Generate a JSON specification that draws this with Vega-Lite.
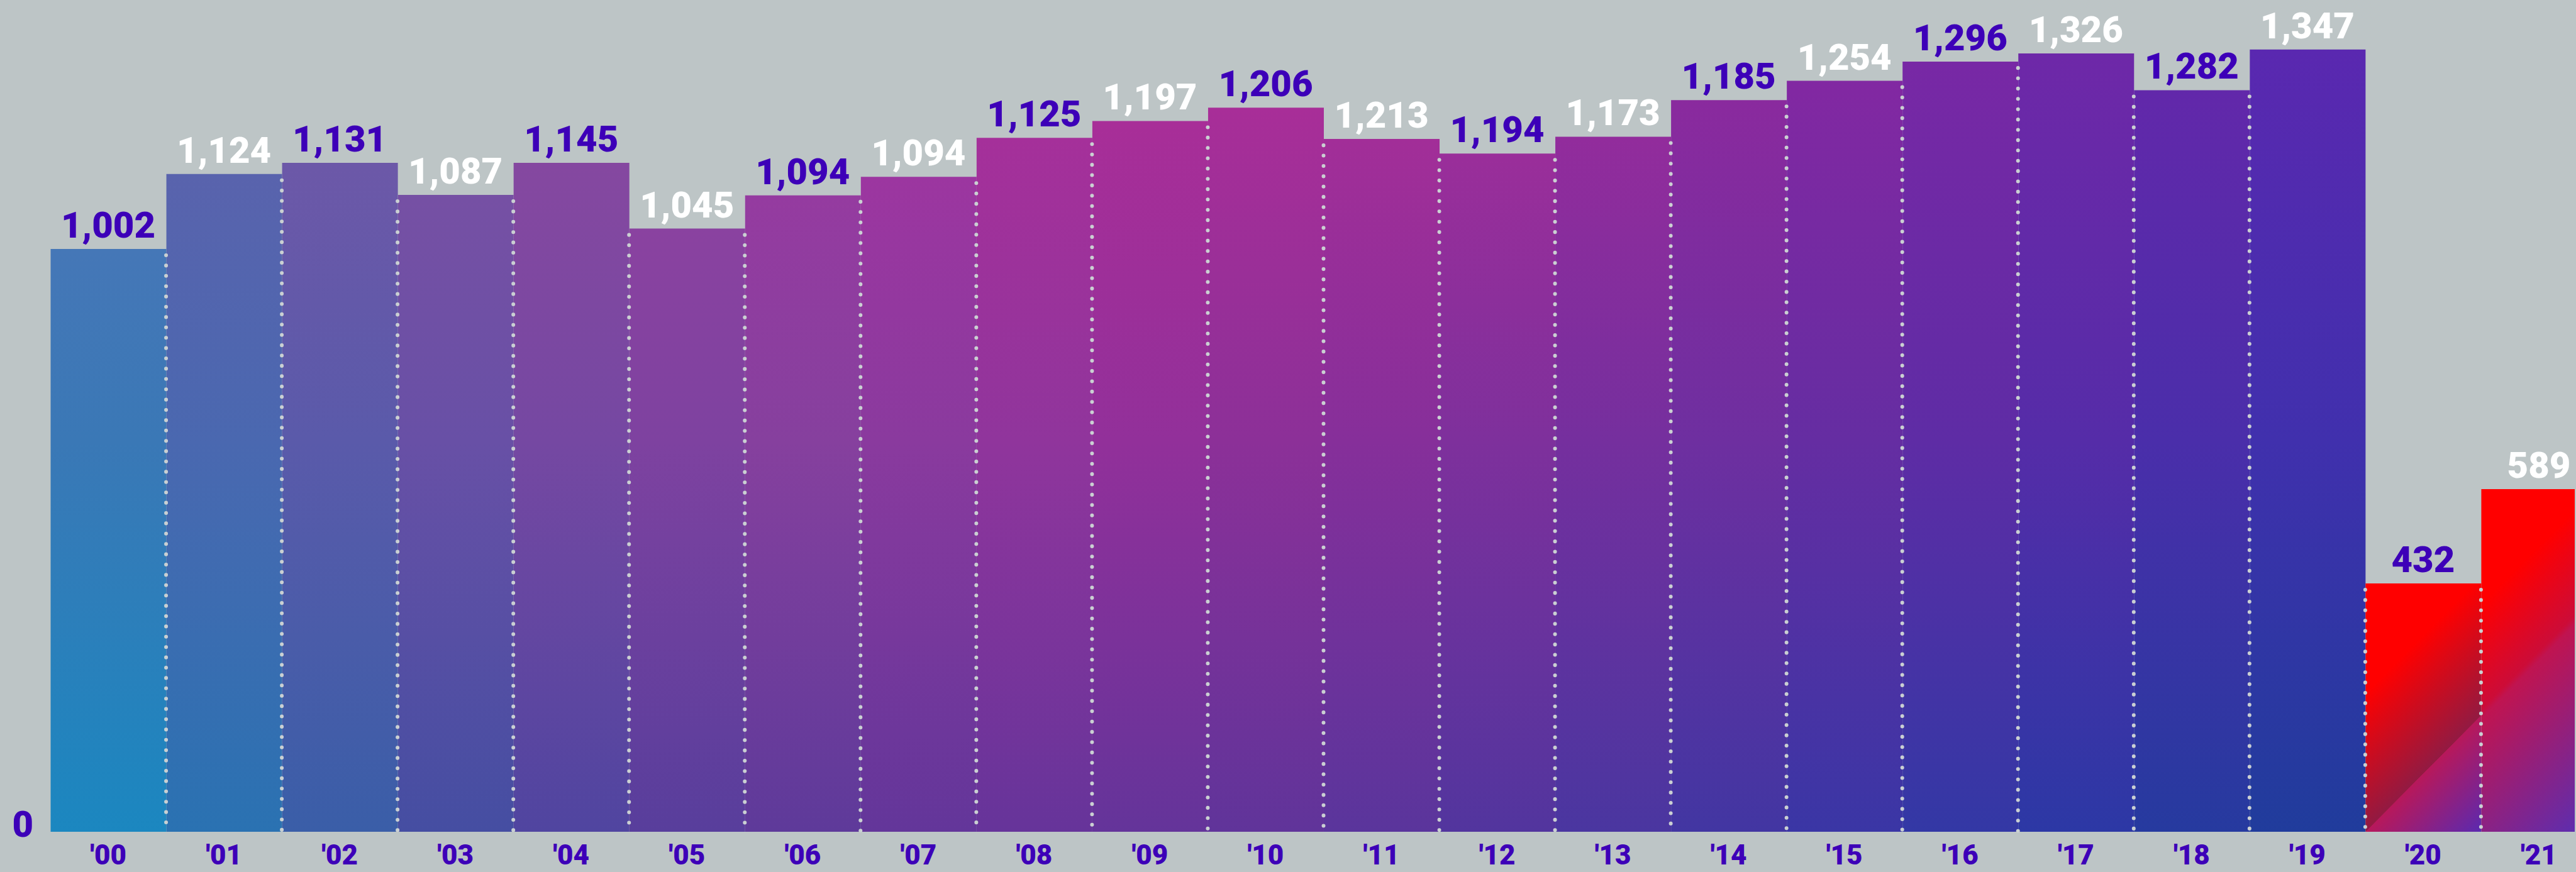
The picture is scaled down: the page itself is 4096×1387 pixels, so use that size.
{
  "$schema": "https://vega.github.io/schema/vega-lite/v6.json",
  "width": 4014,
  "height": 1323,
  "autosize": {"type": "none"},
  "padding": {"left": 80, "top": 0, "right": 2, "bottom": 64},
  "background": "#bdc5c6",
  "config": {"view": {"stroke": null}},
  "datasets": {
    "bars": [
      {"year": 2000, "lab": "'00", "value": 1002, "bar": 1002},
      {"year": 2001, "lab": "'01", "value": 1124, "bar": 1131},
      {"year": 2002, "lab": "'02", "value": 1131, "bar": 1150},
      {"year": 2003, "lab": "'03", "value": 1087, "bar": 1095},
      {"year": 2004, "lab": "'04", "value": 1145, "bar": 1150},
      {"year": 2005, "lab": "'05", "value": 1045, "bar": 1037},
      {"year": 2006, "lab": "'06", "value": 1094, "bar": 1094},
      {"year": 2007, "lab": "'07", "value": 1094, "bar": 1126},
      {"year": 2008, "lab": "'08", "value": 1125, "bar": 1193},
      {"year": 2009, "lab": "'09", "value": 1197, "bar": 1222},
      {"year": 2010, "lab": "'10", "value": 1206, "bar": 1245},
      {"year": 2011, "lab": "'11", "value": 1213, "bar": 1191},
      {"year": 2012, "lab": "'12", "value": 1194, "bar": 1166},
      {"year": 2013, "lab": "'13", "value": 1173, "bar": 1195},
      {"year": 2014, "lab": "'14", "value": 1185, "bar": 1258},
      {"year": 2015, "lab": "'15", "value": 1254, "bar": 1291},
      {"year": 2016, "lab": "'16", "value": 1296, "bar": 1324},
      {"year": 2017, "lab": "'17", "value": 1326, "bar": 1338},
      {"year": 2018, "lab": "'18", "value": 1282, "bar": 1275},
      {"year": 2019, "lab": "'19", "value": 1347, "bar": 1345},
      {"year": 2020, "lab": "'20", "value": 432, "bar": 427},
      {"year": 2021, "lab": "'21", "value": 589, "bar": 589}
    ],
    "edges": [
      {"edge": 2001, "h": 1002}, {"edge": 2002, "h": 1131}, {"edge": 2003, "h": 1095},
      {"edge": 2004, "h": 1095}, {"edge": 2005, "h": 1037}, {"edge": 2006, "h": 1037},
      {"edge": 2007, "h": 1094}, {"edge": 2008, "h": 1126}, {"edge": 2009, "h": 1193},
      {"edge": 2010, "h": 1222}, {"edge": 2011, "h": 1191}, {"edge": 2012, "h": 1166},
      {"edge": 2013, "h": 1166}, {"edge": 2014, "h": 1195}, {"edge": 2015, "h": 1258},
      {"edge": 2016, "h": 1291}, {"edge": 2017, "h": 1324}, {"edge": 2018, "h": 1275},
      {"edge": 2019, "h": 1275}, {"edge": 2020, "h": 427}, {"edge": 2021, "h": 427}
    ],
    "zero": [{"v": 0}]
  },
  "layer": [
    {
      "data": {"name": "bars"},
      "mark": {"type": "bar", "binSpacing": 0, "clip": true},
      "encoding": {
        "x": {"field": "year", "type": "quantitative", "bin": {"step": 1, "extent": [2000, 2022]}, "scale": {"domain": [2000, 2021.81], "nice": false, "zero": false}, "axis": null},
        "y": {"field": "bar", "type": "quantitative", "scale": {"domain": [0, 1430], "nice": false}, "axis": null},
        "fill": {
          "condition": [
            {"test": "datum.year === 2000", "value": {"gradient": "linear", "x1": 0, "y1": 0, "x2": 0, "y2": 1, "stops": [{"offset": 0, "color": "#4577b7"}, {"offset": 0.33, "color": "#3a78b6"}, {"offset": 1, "color": "#1b87c0"}]}},
            {"test": "datum.year === 2001", "value": {"gradient": "linear", "x1": 0, "y1": 0, "x2": 0, "y2": 1, "stops": [{"offset": 0, "color": "#5963ad"}, {"offset": 0.407, "color": "#4a68b0"}, {"offset": 1, "color": "#2a72b2"}]}},
            {"test": "datum.year === 2002", "value": {"gradient": "linear", "x1": 0, "y1": 0, "x2": 0, "y2": 1, "stops": [{"offset": 0, "color": "#6c58a8"}, {"offset": 0.417, "color": "#5a5aaa"}, {"offset": 1, "color": "#3a5ea8"}]}},
            {"test": "datum.year === 2003", "value": {"gradient": "linear", "x1": 0, "y1": 0, "x2": 0, "y2": 1, "stops": [{"offset": 0, "color": "#7650a4"}, {"offset": 0.387, "color": "#6850a6"}, {"offset": 1, "color": "#454ea2"}]}},
            {"test": "datum.year === 2004", "value": {"gradient": "linear", "x1": 0, "y1": 0, "x2": 0, "y2": 1, "stops": [{"offset": 0, "color": "#8548a0"}, {"offset": 0.417, "color": "#7548a2"}, {"offset": 1, "color": "#5045a0"}]}},
            {"test": "datum.year === 2005", "value": {"gradient": "linear", "x1": 0, "y1": 0, "x2": 0, "y2": 1, "stops": [{"offset": 0, "color": "#8a42a0"}, {"offset": 0.353, "color": "#7e42a0"}, {"offset": 1, "color": "#583e9c"}]}},
            {"test": "datum.year === 2006", "value": {"gradient": "linear", "x1": 0, "y1": 0, "x2": 0, "y2": 1, "stops": [{"offset": 0, "color": "#953ba0"}, {"offset": 0.387, "color": "#86409e"}, {"offset": 1, "color": "#5e3a9a"}]}},
            {"test": "datum.year === 2007", "value": {"gradient": "linear", "x1": 0, "y1": 0, "x2": 0, "y2": 1, "stops": [{"offset": 0, "color": "#9c36a0"}, {"offset": 0.404, "color": "#8a3a9e"}, {"offset": 1, "color": "#63369a"}]}},
            {"test": "datum.year === 2008", "value": {"gradient": "linear", "x1": 0, "y1": 0, "x2": 0, "y2": 1, "stops": [{"offset": 0, "color": "#a5309a"}, {"offset": 0.438, "color": "#90359c"}, {"offset": 1, "color": "#66349a"}]}},
            {"test": "datum.year === 2009", "value": {"gradient": "linear", "x1": 0, "y1": 0, "x2": 0, "y2": 1, "stops": [{"offset": 0, "color": "#a82e98"}, {"offset": 0.451, "color": "#92309a"}, {"offset": 1, "color": "#64349a"}]}},
            {"test": "datum.year === 2010", "value": {"gradient": "linear", "x1": 0, "y1": 0, "x2": 0, "y2": 1, "stops": [{"offset": 0, "color": "#a82e98"}, {"offset": 0.461, "color": "#8c3098"}, {"offset": 1, "color": "#60349a"}]}},
            {"test": "datum.year === 2011", "value": {"gradient": "linear", "x1": 0, "y1": 0, "x2": 0, "y2": 1, "stops": [{"offset": 0, "color": "#a22e98"}, {"offset": 0.437, "color": "#862f9a"}, {"offset": 1, "color": "#5a359c"}]}},
            {"test": "datum.year === 2012", "value": {"gradient": "linear", "x1": 0, "y1": 0, "x2": 0, "y2": 1, "stops": [{"offset": 0, "color": "#9a2e9a"}, {"offset": 0.425, "color": "#7e309c"}, {"offset": 1, "color": "#52359e"}]}},
            {"test": "datum.year === 2013", "value": {"gradient": "linear", "x1": 0, "y1": 0, "x2": 0, "y2": 1, "stops": [{"offset": 0, "color": "#922c9c"}, {"offset": 0.439, "color": "#752f9e"}, {"offset": 1, "color": "#4a36a0"}]}},
            {"test": "datum.year === 2014", "value": {"gradient": "linear", "x1": 0, "y1": 0, "x2": 0, "y2": 1, "stops": [{"offset": 0, "color": "#8a2a9e"}, {"offset": 0.467, "color": "#6e2fa0"}, {"offset": 1, "color": "#4236a2"}]}},
            {"test": "datum.year === 2015", "value": {"gradient": "linear", "x1": 0, "y1": 0, "x2": 0, "y2": 1, "stops": [{"offset": 0, "color": "#8228a2"}, {"offset": 0.48, "color": "#652da2"}, {"offset": 1, "color": "#3a36a5"}]}},
            {"test": "datum.year === 2016", "value": {"gradient": "linear", "x1": 0, "y1": 0, "x2": 0, "y2": 1, "stops": [{"offset": 0, "color": "#7828a5"}, {"offset": 0.493, "color": "#5e2ca5"}, {"offset": 1, "color": "#3338a5"}]}},
            {"test": "datum.year === 2017", "value": {"gradient": "linear", "x1": 0, "y1": 0, "x2": 0, "y2": 1, "stops": [{"offset": 0, "color": "#6e28a8"}, {"offset": 0.499, "color": "#552ca8"}, {"offset": 1, "color": "#2c38a5"}]}},
            {"test": "datum.year === 2018", "value": {"gradient": "linear", "x1": 0, "y1": 0, "x2": 0, "y2": 1, "stops": [{"offset": 0, "color": "#6228aa"}, {"offset": 0.474, "color": "#4a2eaa"}, {"offset": 1, "color": "#263a9f"}]}},
            {"test": "datum.year === 2019", "value": {"gradient": "linear", "x1": 0, "y1": 0, "x2": 0, "y2": 1, "stops": [{"offset": 0, "color": "#5a28b0"}, {"offset": 0.501, "color": "#4030ad"}, {"offset": 1, "color": "#203c9c"}]}},
            {"test": "datum.year === 2020", "value": {"gradient": "linear", "x1": 0, "y1": 0, "x2": 0.565, "y2": 1.204, "stops": [{"offset": 0, "color": "#ff0000"}, {"offset": 0.3, "color": "#ff0000"}, {"offset": 0.68, "color": "#921a42"}, {"offset": 0.681, "color": "#b8185a"}, {"offset": 1, "color": "#5a2ab0"}]}},
            {"test": "datum.year === 2021", "value": {"gradient": "linear", "x1": 0, "y1": 0, "x2": 0.407, "y2": 1.2, "stops": [{"offset": 0, "color": "#ff0000"}, {"offset": 0.25, "color": "#ff0000"}, {"offset": 0.48, "color": "#cc0c38"}, {"offset": 0.5, "color": "#c01450"}, {"offset": 1, "color": "#5430b8"}]}}
          ],
          "value": "#8a3a9e"
        }
      }
    },
    {
      "data": {"name": "edges"},
      "mark": {"type": "rule", "strokeWidth": 6, "strokeCap": "round", "strokeDash": [0.1, 16.3], "strokeDashOffset": 6.4, "color": "#cad0d2"},
      "encoding": {
        "x": {"field": "edge", "type": "quantitative", "scale": {"domain": [2000, 2021.81], "nice": false, "zero": false}, "axis": null},
        "y": {"field": "h", "type": "quantitative", "scale": {"domain": [0, 1430], "nice": false}, "axis": null},
        "y2": {"datum": 0}
      }
    },
    {
      "data": {"name": "bars"},
      "mark": {"type": "text", "font": "Roboto", "fontSize": 58, "fontWeight": 900, "align": "center", "baseline": "alphabetic", "dy": -18},
      "encoding": {
        "x": {"field": "year", "type": "quantitative", "bin": {"step": 1, "extent": [2000, 2022]}, "bandPosition": 0.5, "scale": {"domain": [2000, 2021.81], "nice": false, "zero": false}, "axis": null},
        "y": {"field": "bar", "type": "quantitative", "scale": {"domain": [0, 1430], "nice": false}, "axis": null},
        "text": {"field": "value", "type": "quantitative", "format": ",d"},
        "color": {"condition": {"test": "datum.year % 2 === 0", "value": "#3d00b8"}, "value": "#ffffff"}
      }
    },
    {
      "data": {"name": "bars"},
      "mark": {"type": "text", "font": "Roboto", "fontSize": 44, "fontWeight": 900, "align": "center", "baseline": "alphabetic", "dy": 52, "color": "#3d00b8"},
      "encoding": {
        "x": {"field": "year", "type": "quantitative", "bin": {"step": 1, "extent": [2000, 2022]}, "bandPosition": 0.5, "scale": {"domain": [2000, 2021.81], "nice": false, "zero": false}, "axis": null},
        "y": {"datum": 0, "type": "quantitative", "scale": {"domain": [0, 1430], "nice": false}, "axis": null},
        "text": {"field": "lab", "type": "nominal"}
      }
    },
    {
      "data": {"name": "zero"},
      "mark": {"type": "text", "font": "Roboto", "fontSize": 58, "fontWeight": 900, "align": "right", "baseline": "alphabetic", "dx": -27, "dy": 8, "color": "#3d00b8"},
      "encoding": {
        "x": {"datum": 2000, "type": "quantitative", "scale": {"domain": [2000, 2021.81], "nice": false, "zero": false}, "axis": null},
        "y": {"field": "v", "type": "quantitative", "scale": {"domain": [0, 1430], "nice": false}, "axis": null},
        "text": {"field": "v", "type": "quantitative"}
      }
    }
  ]
}
